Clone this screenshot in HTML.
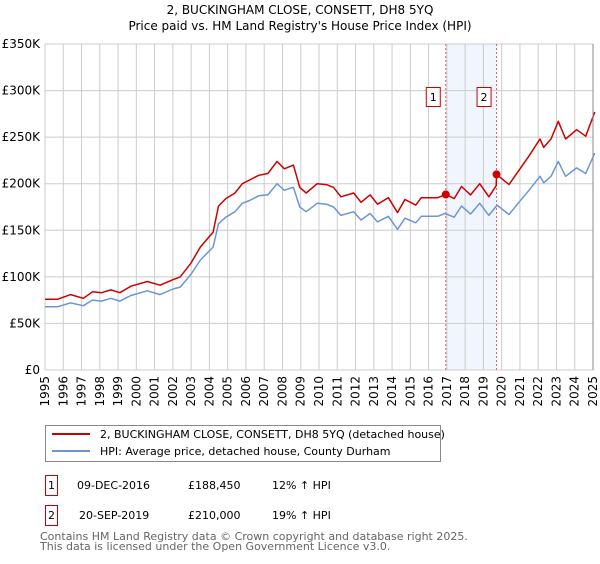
<!DOCTYPE html>
<html><head><meta charset="utf-8"><style>
body{margin:0;background:#fff;font-family:"DejaVu Sans","Liberation Sans",sans-serif;}
svg text{font-family:"DejaVu Sans","Liberation Sans",sans-serif;}
</style></head><body>
<svg id="c" width="600" height="560" xmlns="http://www.w3.org/2000/svg">
<text x="300" y="14" text-anchor="middle" font-size="12" fill="#000">2, BUCKINGHAM CLOSE, CONSETT, DH8 5YQ</text>
<text x="300" y="30" text-anchor="middle" font-size="12" fill="#000">Price paid vs. HM Land Registry's House Price Index (HPI)</text>
<g id="grid"></g><g id="marks"></g><g id="axes"></g>
<g>
<rect x="45.5" y="425.5" width="395" height="36" fill="#fff" stroke="#888"/>
<line x1="52" y1="434" x2="90" y2="434" stroke="#cc0000" stroke-width="2"/>
<text x="100" y="438" font-size="11">2, BUCKINGHAM CLOSE, CONSETT, DH8 5YQ (detached house)</text>
<line x1="52" y1="451" x2="90" y2="451" stroke="#6a97d4" stroke-width="2"/>
<text x="100" y="455" font-size="11">HPI: Average price, detached house, County Durham</text>
</g>
<g font-size="11">
<rect x="45.5" y="475.5" width="12" height="20" fill="#fff" stroke="#cc0000"/><text x="51.5" y="489" text-anchor="middle">1</text>
<text x="77" y="489">09-DEC-2016</text><text x="188" y="489">£188,450</text><text x="272" y="489">12% ↑ HPI</text>
<rect x="45.5" y="505.5" width="12" height="20" fill="#fff" stroke="#cc0000"/><text x="51.5" y="519" text-anchor="middle">2</text>
<text x="79" y="519">20-SEP-2019</text><text x="188" y="519">£210,000</text><text x="272" y="519">19% ↑ HPI</text>
</g>
<text x="40" y="540" font-size="11" fill="#666">Contains HM Land Registry data © Crown copyright and database right 2025.</text>
<text x="40" y="550" font-size="11" fill="#666">This data is licensed under the Open Government Licence v3.0.</text>
</svg>
<script>
const yTicks=[0,50000,100000,150000,200000,250000,300000,350000];
const yTickLabels=["£0","£50K","£100K","£150K","£200K","£250K","£300K","£350K"];
const xTicks=[1995,1996,1997,1998,1999,2000,2001,2002,2003,2004,2005,2006,2007,2008,2009,2010,2011,2012,2013,2014,2015,2016,2017,2018,2019,2020,2021,2022,2023,2024,2025];
const hpiYears=[1995.0,1995.7,1996.4,1997.1,1997.6,1998.1,1998.6,1999.1,1999.7,2000.6,2001.3,2002.0,2002.4,2003.0,2003.5,2004.2,2004.5,2004.9,2005.4,2005.8,2006.2,2006.7,2007.2,2007.7,2008.1,2008.6,2008.95,2009.3,2009.9,2010.4,2010.8,2011.2,2011.9,2012.3,2012.8,2013.2,2013.8,2014.3,2014.7,2015.3,2015.6,2016.5,2016.9,2017.4,2017.8,2018.3,2018.8,2019.3,2019.75,2020.4,2020.9,2021.5,2022.1,2022.3,2022.7,2023.1,2023.5,2024.1,2024.6,2025.1];
const hpiValues=[68,68,72,69,75,74,77,74,80,85,81,87,89,103,118,132,157,164,170,179,182,187,188,200,193,196,175,170,179,178,175,166,170,161,168,159,165,151,163,158,165,165,168,164,176,167.5,179,166,177,167,179,193,208,201,208,224,208,217,211,233];
const redYears=[1995.0,1995.7,1996.4,1997.1,1997.6,1998.1,1998.6,1999.1,1999.7,2000.6,2001.3,2002.0,2002.4,2003.0,2003.5,2004.2,2004.5,2004.9,2005.4,2005.8,2006.2,2006.7,2007.2,2007.7,2008.1,2008.6,2008.95,2009.3,2009.9,2010.4,2010.8,2011.2,2011.9,2012.3,2012.8,2013.2,2013.8,2014.3,2014.7,2015.3,2015.6,2016.5,2016.94,2017.4,2017.8,2018.3,2018.8,2019.3,2019.70,2019.72,2020.4,2020.9,2021.5,2022.1,2022.3,2022.7,2023.1,2023.5,2024.1,2024.6,2025.1];
const redValues=[76,76,81,77,84,83,86,83,90,95,91,97,100,115,132,148,176,184,190,200,204,209,211,224,216,220,196,190,200,199,196,186,190,180,188,178,185,169,183,177,185,185,188.45,184,197,188,200,186,198,210,199,213,230,248,239,248,267,248,258,251,277];
const saleYears=[2016.94,2019.72];
const saleValues=[188.45,210];
const saleLabels=["1","2"];
const NS="http://www.w3.org/2000/svg";
const L=45,R=593,T=44,B=370;
function xs(y){return L+(y-1995)/(2025-1995)*(R-L);}
function ys(v){return B-v/350000*(B-T);}
function el(t,a,p){const e=document.createElementNS(NS,t);for(const k in a)e.setAttribute(k,a[k]);p.appendChild(e);return e;}
const grid=document.getElementById('grid'),marks=document.getElementById('marks'),axes=document.getElementById('axes');
const band=el('rect',{x:xs(saleYears[0]),y:T,width:xs(saleYears[1])-xs(saleYears[0]),height:B-T,fill:'#eef3fc',opacity:0.8},grid);


yTicks.forEach((v,i)=>{
 const g=el('line',{x1:L,x2:R,y1:ys(v),y2:ys(v),stroke:'#ccc'},grid);
 
 
 const t=el('text',{x:40,y:ys(v)+4,'text-anchor':'end','font-size':12},axes);t.textContent=yTickLabels[i];
 
 
});
xTicks.forEach(y=>{
 const g=el('line',{x1:xs(y),x2:xs(y),y1:T,y2:B,stroke:'#ccc'},grid);
 
 
 const t=el('text',{x:0,y:0,'text-anchor':'end','font-size':12,transform:`translate(${xs(y)+4},${B+6}) rotate(-90)`},axes);t.textContent=y;
 
 
});
saleYears.forEach((y,i)=>{
 const l=el('line',{x1:xs(y),x2:xs(y),y1:T,y2:B,stroke:'#e06060','stroke-dasharray':'2,2'},grid);
 
 
});
function path(xa,va,color,name){
 const d=xa.map((y,i)=>(i?'L':'M')+xs(y).toFixed(1)+','+ys(va[i]*1000).toFixed(1)).join('');
 const p=el('path',{d:d,fill:'none',stroke:color,'stroke-width':1.5,'stroke-linejoin':'round'},marks);
 
 
}
path(hpiYears,hpiValues,'#6a97d4','hpi-line');
path(redYears,redValues,'#cc0000','property-price-line');
saleYears.forEach((y,i)=>{
 const c=el('circle',{cx:xs(y),cy:ys(saleValues[i]*1000),r:4,fill:'#cc0000'},marks);
 
 
 const r=el('rect',{x:xs(y)-19.5,y:87.5,width:14,height:19,fill:'#fff',stroke:'#cc0000'},marks);
 
 
 const t=el('text',{x:xs(y)-12.5,y:101,'text-anchor':'middle','font-size':11},marks);t.textContent=saleLabels[i];
 
 
});
const ax=el('line',{x1:R,x2:R,y1:T,y2:B,stroke:'#888'},axes);


</script>
</body></html>
